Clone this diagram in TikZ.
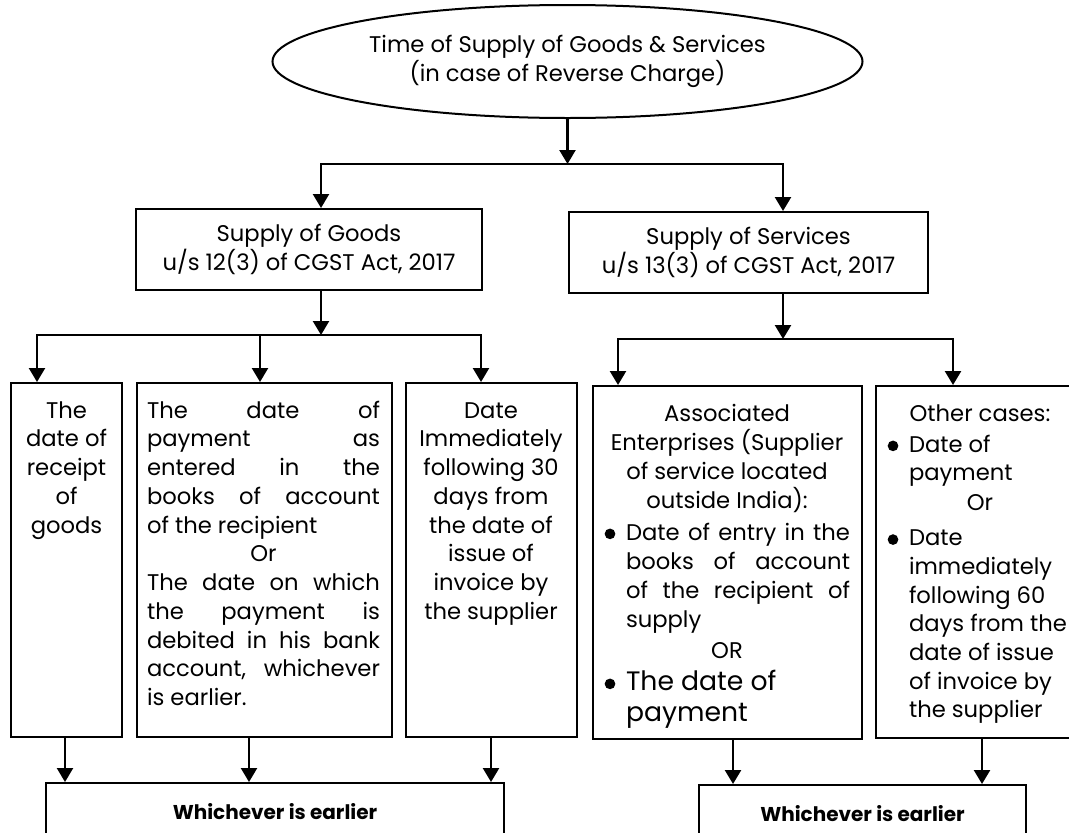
\documentclass[tikz,border=0pt]{standalone}
\usepackage{fontspec}
\setmainfont{Poppins}
\usetikzlibrary{arrows.meta,shapes.geometric}
\newlength\pxu \setlength\pxu{0.75pt}
\newlength\boxtw
\newcommand\dotb{\tikz[baseline=0pt]{\useasboundingbox (0pt,0pt) rectangle (8pt,9pt);\fill (4pt,4.6pt) circle[radius=4pt];}}
\newcommand\lnC[1]{\hbox to\boxtw{\hfil#1\hfil}}
\newcommand\lnL[1]{\hbox to\boxtw{#1\hfil}}
\newcommand\lnJ[1]{\hbox to\boxtw{\spaceskip=.3em plus 1fil\relax#1}}
\newcommand\bul{\hbox to 22\pxu{\hskip0.5pt\dotb\hfil}}
\newcommand\lnBJ[1]{\hbox to\boxtw{\bul\spaceskip=.3em plus 1fil\relax#1}}
\newcommand\lnBL[1]{\hbox to\boxtw{\bul#1\hfil}}
\newcommand\lnIJ[1]{\hbox to\boxtw{\hskip22\pxu\spaceskip=.3em plus 1fil\relax#1}}
\newcommand\lnIL[1]{\hbox to\boxtw{\hskip22\pxu#1\hfil}}
\newcommand\bigf{\fontsize{20pt}{24pt}\selectfont}
\tikzset{
  bx/.style 2 args={draw, line width=1.5pt, rectangle, inner sep=0pt,
    minimum width=#1*0.75pt, minimum height=#2*0.75pt},
  tx/.style={inner sep=0pt, anchor=base},
  arr/.style={line width=1.8pt, -{Triangle[width=12pt,length=10.5pt]}},
  wh/.style={font=\bfseries\fontsize{15pt}{18pt}\selectfont}
}
\begin{document}
\begin{tikzpicture}[x=0.75pt,y=-0.75pt,
  every node/.style={font=\fontsize{17pt}{21.75pt}\selectfont}]
\useasboundingbox (0,0) rectangle (1069,832);
\clip (0,0) rectangle (1069,832);

% top ellipse
\node[ellipse, draw, line width=1.5pt, inner sep=0pt, align=center,
  minimum width=590*0.75pt, minimum height=113*0.75pt] (top) at (567.5,61.5)
  {Time of Supply of Goods \& Services\\(in case of Reverse Charge)};

% level 2
\node[bx={346}{81}, align=center] (goods) at (309,249.5)
  {Supply of Goods\\u/s 12(3) of CGST Act, 2017};
\node[bx={359}{81}, align=center] (serv) at (748.5,252.5)
  {Supply of Services\\u/s 13(3) of CGST Act, 2017};

% level 3 boxes
\node[bx={111}{354}] (b1) at (66.5,560) {};
\node[bx={255}{354}] (b2) at (264.5,560) {};
\node[bx={171}{354}] (b3) at (491.5,560) {};
\node[bx={269}{353}] (b4) at (727.5,562.5) {};
\node[bx={208}{352}] (b5) at (980,562) {};

% texts
\node[tx] (t1) at (66.5,418) {\boxtw=105\pxu\vtop{\baselineskip=28.75\pxu
  \lnC{The}\lnC{date of}\lnC{receipt}\lnC{of}\lnC{goods}}};
\node[tx] (t2) at (263.5,418) {\boxtw=233\pxu\vtop{\baselineskip=28.75\pxu
  \lnJ{The date of}
  \lnJ{payment as}
  \lnJ{entered in the}
  \lnJ{books of account}
  \lnL{of the recipient}
  \lnC{Or}
  \lnJ{The date on which}
  \lnJ{the payment is}
  \lnJ{debited in his bank}
  \lnJ{account, whichever}
  \lnL{is earlier.}}};
\node[tx] (t3) at (491,418) {\boxtw=165\pxu\vtop{\baselineskip=28.75\pxu
  \lnC{Date}\lnC{Immediately}\lnC{following 30}\lnC{days from}
  \lnC{the date of}\lnC{issue of}\lnC{invoice by}\lnC{the supplier}}};
\node[tx] (t4) at (727,421) {\boxtw=246\pxu\vtop{\baselineskip=29\pxu
  \lnC{Associated}
  \lnC{Enterprises (Supplier}
  \lnC{of service located}
  \lnC{outside India):}
  \vskip3\pxu
  \lnBJ{Date of entry in the}
  \lnIJ{books of account}
  \lnIJ{of the recipient of}
  \lnIL{supply}
  \vskip2\pxu
  \lnC{OR}
  \vskip3\pxu
  \lnBL{\bigf The date of}
  \vskip2\pxu
  \lnIL{\bigf payment}}};
\node[tx] (t5) at (980,421) {\boxtw=186\pxu\vtop{\baselineskip=28.7\pxu
  \lnC{Other cases:}
  \vskip2.3\pxu
  \lnBL{Date of}
  \lnIL{payment}
  \vskip1.3\pxu
  \lnC{Or}
  \vskip6.3\pxu
  \lnBL{Date}
  \lnIL{immediately}
  \lnIL{following 60}
  \lnIL{days from the}
  \lnIL{date of issue}
  \lnIL{of invoice by}
  \lnIL{the supplier}}};

% bottom boxes
\node[bx={458}{57}, wh] (w1) at (275,811.5) {Whichever is earlier};
\node[bx={327}{57}, wh] (w2) at (862.5,813.5) {Whichever is earlier};

% connector points
\coordinate (j1) at (567.5,164);
\coordinate (gin) at ([xshift=9pt]goods.north);
\coordinate (sin) at ([xshift=25.875pt]serv.north);
\coordinate (gout) at ([xshift=9pt]goods.south);
\coordinate (sout) at ([xshift=25.875pt]serv.south);
\coordinate (j2) at (321,335);
\coordinate (j3) at (783,339);
\coordinate (b1in) at ([xshift=-22.125pt]b1.north);
\coordinate (b2in) at ([xshift=-3.375pt]b2.north);
\coordinate (b3in) at ([xshift=-7.875pt]b3.north);
\coordinate (b4in) at ([xshift=-82.125pt]b4.north);
\coordinate (b5in) at ([xshift=-20.25pt]b5.north);
\coordinate (b1out) at ([xshift=-1.125pt]b1.south);
\coordinate (b2out) at ([xshift=-11.625pt]b2.south);
\coordinate (b3out) at ([xshift=-0.375pt]b3.south);
\coordinate (b4out) at ([xshift=4.125pt]b4.south);
\coordinate (b5out) at ([xshift=1.5pt]b5.south);

% connectors
\draw[arr] (top.south) -- (j1);
\draw[arr] (j1) -| (gin);
\draw[arr] (j1) -| (sin);
\draw[arr] (gout) -- (j2);
\draw[arr] (j2) -| (b1in);
\draw[arr] (j2) -| (b3in);
\draw[arr] (b2in |- j2) -- (b2in);
\draw[arr] (sout) -- (j3);
\draw[arr] (j3) -| (b4in);
\draw[arr] (j3) -| (b5in);
\draw[arr] (b1out) -- (b1out |- w1.north);
\draw[arr] (b2out) -- (b2out |- w1.north);
\draw[arr] (b3out) -- (b3out |- w1.north);
\draw[arr] (b4out) -- (b4out |- w2.north);
\draw[arr] (b5out) -- (b5out |- w2.north);
\end{tikzpicture}
\end{document}
